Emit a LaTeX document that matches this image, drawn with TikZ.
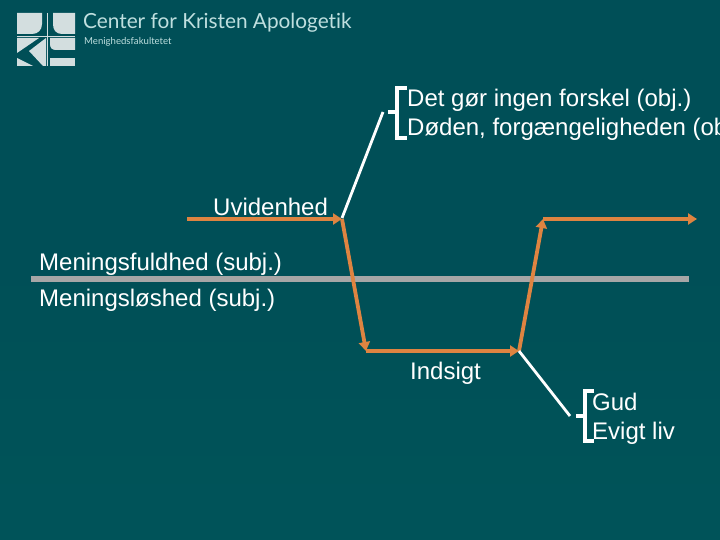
\documentclass[tikz,border=0pt]{standalone}
\usepackage{fontspec}
\setmainfont{Liberation Sans}
\newfontfamily\logofont[Ligatures=NoCommon]{Lato}
\usetikzlibrary{arrows.meta}
\definecolor{bgteal}{HTML}{004F57}
\definecolor{bgtealb}{HTML}{00555A}
\definecolor{orangeline}{HTML}{DE8441}
\definecolor{greybar}{HTML}{A6A6A6}
\definecolor{logolight}{HTML}{D3DEDF}
\definecolor{logotext}{HTML}{BFDFDF}
\tikzset{
  x=1pt,y=-1pt,
  label text/.style={text=white,font=\fontsize{24}{28}\selectfont,inner sep=0pt,anchor=base west},
  orange arrow/.style={draw=orangeline,line width=3.8pt,-{Triangle[length=9pt,width=11pt]},line cap=butt},
  white line/.style={draw=white,line width=2.8pt},
  bracket line/.style={draw=white,line width=3.5pt,line cap=butt,line join=miter},
  logo shape/.style={fill=logolight,draw=none}
}
\begin{document}
\begin{tikzpicture}
\useasboundingbox (0,0) rectangle (720,540);
\fill[bgteal] (0,0) rectangle (720,540);
\shade[top color=bgteal,bottom color=bgtealb,opacity=.8] (0,200) rectangle (720,540);
% logo
\fill[logo shape] (17,13) -- (42,13) -- (42,24) .. controls (42,30) and (38,34) .. (32,34) -- (17,34) -- cycle;
\fill[logo shape] (53,13) -- (75,13) -- (75,34) -- (62,34) .. controls (56,34) and (53,30) .. (53,24) -- cycle;
\fill[logo shape] (17,38) -- (39,38) -- (17,53) -- cycle;
\fill[logo shape] (17,58) -- (33,66) -- (17,66) -- cycle;
\fill[logo shape] (29,51) -- (46,38) -- (46,66) -- (43,66) -- cycle;
\fill[logo shape] (50,38) -- (75,38) -- (75,50) -- (56,50) .. controls (52,50) and (50,48) .. (50,44) -- cycle;
\fill[logo shape] (50,58) -- (75,58) -- (75,66) -- (50,66) -- cycle;
\draw[logolight,line width=.8pt] (17,36) -- (75,36) (47.5,13) -- (47.5,66);
\node[anchor=base west,inner sep=0pt,text=logotext,font=\logofont\fontsize{20.8}{25}\selectfont] (logotitle) at (83,29) {Center for Kristen Apologetik};
\node[anchor=base west,inner sep=0pt,text=logotext,font=\logofont\fontsize{9.6}{11}\selectfont] (logosub) at (84,45) {Menighedsfakultetet};
% bar
\coordinate (barL) at (31,279);
\coordinate (barR) at (689,279);
\draw[greybar,line width=5.5pt] (barL) -- (barR);
% labels
\node[label text] (obja) at (407,107) {Det gør ingen forskel (obj.)};
\node[label text] (objb) at (407,136) {Døden, forgængeligheden (obj.)};
\node[label text] (uviden) at (213,215) {Uvidenhed};
\node[label text] (menf) at (39,270) {Meningsfuldhed (subj.)};
\node[label text] (menl) at (39,306) {Meningsløshed (subj.)};
\node[label text] (inds) at (410,379) {Indsigt};
\node[label text] (gud) at (592,410) {Gud};
\node[label text] (evigt) at (592,439) {Evigt liv};
% path coordinates
\coordinate (p0) at (187,219);
\coordinate (p1) at (342,219);
\coordinate (p2) at (366,351);
\coordinate (p3) at (519,351);
\coordinate (p4) at (543,219);
\coordinate (p5) at (697,219);
\draw[orange arrow] (p0) -- (p1);
\draw[orange arrow] (p1) -- (p2);
\draw[orange arrow] (p2) -- (p3);
\draw[orange arrow] (p3) -- (p4);
\draw[orange arrow] (p4) -- (p5);
% white connectors
\coordinate (w1a) at (342,218);
\coordinate (w1b) at (383,112);
\coordinate (w2a) at (519,351);
\coordinate (w2b) at (570,416);
\draw[white line] (w1a) -- (w1b);
\draw[white line] (w2a) -- (w2b);
% brackets
\draw[bracket line] (407,88) -- (397,88) -- (397,138) -- (407,138);
\draw[bracket line] (388,112) -- (397,112);
\draw[bracket line] (594,391) -- (585,391) -- (585,441) -- (594,441);
\draw[bracket line] (576,416) -- (585,416);
\end{tikzpicture}
\end{document}
